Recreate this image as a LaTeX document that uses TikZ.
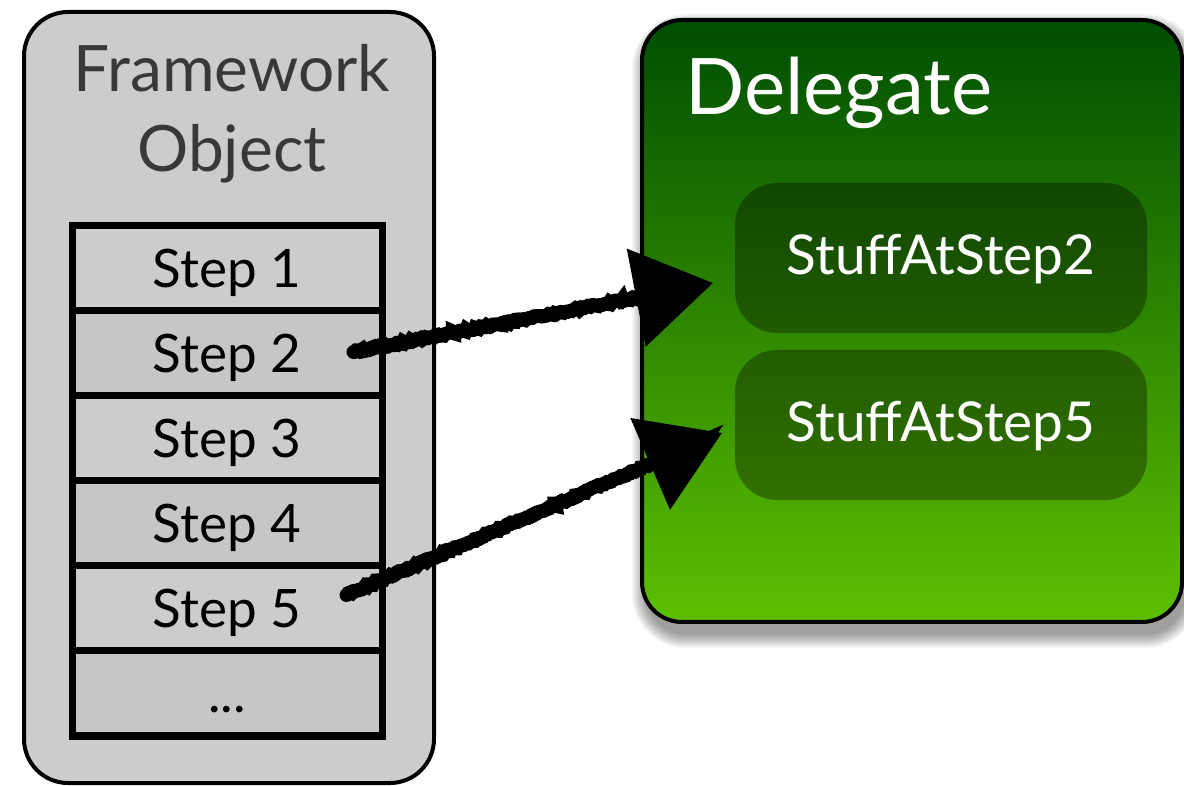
\documentclass[tikz,border=0pt]{standalone}
\usepackage{fontspec}
\setmainfont{Lato}
\usetikzlibrary{arrows.meta,decorations.pathmorphing}
\definecolor{boxgray}{HTML}{CCCCCC}
\definecolor{rowgray}{HTML}{C6C6C6}
\definecolor{titlegray}{HTML}{383838}
\definecolor{greentop}{HTML}{004E00}
\definecolor{greenbot}{HTML}{5EBF00}
\tikzset{
  fwbox/.style={draw=black, line width=4pt, fill=boxgray, rounded corners=44pt,
    minimum width=410pt, minimum height=771pt, inner sep=0pt},
  rowbox/.style={draw=black, line width=7pt, fill=boxgray, minimum width=310pt,
    minimum height=85pt, inner sep=0pt, text height=39pt, text depth=0pt,
    font=\fontsize{53pt}{60pt}\selectfont},
  rowdark/.style={rowbox, fill=rowgray},
  titletext/.style={text=titlegray, inner sep=0pt, anchor=base,
    font=\fontsize{64pt}{76pt}\selectfont},
  dgbox/.style={draw=black, line width=4pt, rounded corners=40pt,
    top color=greentop, bottom color=greenbot, minimum width=540pt,
    minimum height=602pt, inner sep=0pt},
  stuffbox/.style={fill=black, fill opacity=0.33, text opacity=1, text=white,
    rounded corners=42pt, minimum width=412pt, minimum height=150pt,
    inner sep=0pt, text height=40pt, text depth=6pt,
    font=\fontsize{55pt}{62pt}\selectfont},
  charcoal/.style={draw=black, line width=14pt, line cap=round,
    decorate, decoration={random steps, segment length=2pt, amplitude=1.1pt,
      pre length=1pt, post length=20pt},
    -{Triangle[length=78pt, width=100pt, line width=0pt]}},
}
\begin{document}
\begin{tikzpicture}[x=1pt, y=1pt]
\useasboundingbox (0,0) rectangle (1184,785);
% left framework object
\node[fwbox] (fw) at (229,387.5) {};
\node[titletext] (fwt1) at (232,693) {Framework};
\node[titletext] (fwt2) at (232,613) {Object};
\node[rowbox]  (s1) at (227,516.5) {Step 1};
\node[rowdark] (s2) at (227,431.5) {Step 2};
\node[rowbox]  (s3) at (227,346.5) {Step 3};
\node[rowdark] (s4) at (227,261.5) {Step 4};
\node[rowbox]  (s5) at (227,176.5) {Step 5};
\node[rowdark] (s6) at (227,91.5) {...};
% shadow of delegate box
\foreach \i in {0,...,14} {
  \fill[black, opacity=0.03, rounded corners=40pt+\i pt]
    (646-\i,151-\i) rectangle (1185+\i,757+\i);
}
% delegate box
\node[dgbox] (dg) at (912,464) {};
\node[text=white, inner sep=0pt, anchor=base west,
  font=\fontsize{78pt}{90pt}\selectfont] (dgt) at (685,670) {Delegate};
\node[stuffbox] (st2) at (941,527) {StuffAtStep2};
\node[stuffbox] (st5) at (941,360) {StuffAtStep5};
% arrows
\draw[charcoal] ([xshift=-32pt,yshift=1.5pt]s2.east) -- ([xshift=-22pt,yshift=-25pt]st2.west);
\draw[charcoal] ([xshift=-39pt,yshift=13.5pt]s5.east) -- ([xshift=-13pt,yshift=-8pt]st5.west);
\end{tikzpicture}
\end{document}
